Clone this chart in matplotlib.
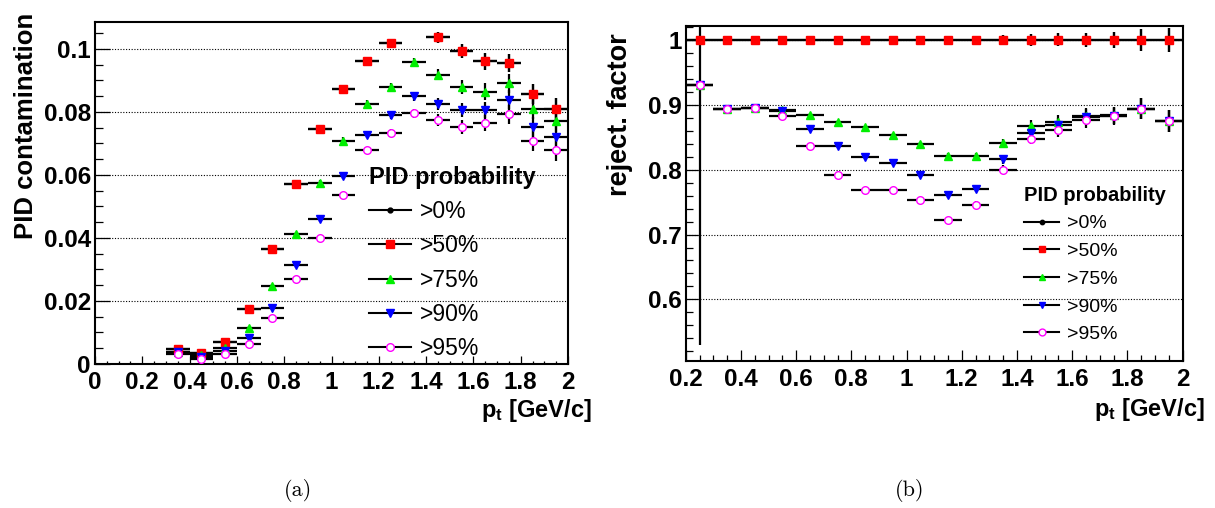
import numpy as np
import matplotlib
matplotlib.use("Agg")
import matplotlib.pyplot as plt
from matplotlib.ticker import MultipleLocator, FormatStrFormatter
from matplotlib.lines import Line2D

plt.rcParams['font.family'] = ['Liberation Sans', 'DejaVu Sans']
plt.rcParams['mathtext.fontset'] = 'custom'
plt.rcParams['mathtext.bf'] = 'Liberation Sans:bold'
plt.rcParams['mathtext.rm'] = 'Liberation Sans:bold'

# ---------------- data ----------------
labels = [">0%", ">50%", ">75%", ">90%", ">95%"]

pt_a = [0.35, 0.45, 0.55, 0.65, 0.75, 0.85, 0.95, 1.05, 1.15, 1.25,
        1.35, 1.45, 1.55, 1.65, 1.75, 1.85, 1.95]
cont_p0 = [0.0047, 0.0036, 0.0071, 0.0176, 0.0366, 0.0572, 0.0744, 0.0874, 0.0962, 0.1017,
           np.nan, 0.1036, 0.0994, 0.0960, 0.0955, 0.0857, 0.0809]
cont_p50 = [0.0047, 0.0036, 0.0071, 0.0176, 0.0366, 0.0572, 0.0744, 0.0874, 0.0962, 0.1017,
            np.nan, 0.1036, 0.0994, 0.0960, 0.0955, 0.0857, 0.0809]
cont_p75 = [0.0039, 0.0030, 0.0052, 0.0113, 0.0248, 0.0411, 0.0575, 0.0709, 0.0825, 0.0880,
            0.0957, 0.0918, 0.0880, 0.0864, 0.0891, 0.0809, 0.0772]
cont_p90 = [0.0037, 0.0023, 0.0041, 0.0081, 0.0179, 0.0313, 0.0459, 0.0598, 0.0728, 0.0791,
            0.0849, 0.0825, 0.0806, 0.0806, 0.0839, 0.0751, 0.0719]
cont_p95 = [0.0032, 0.0015, 0.0032, 0.0065, 0.0147, 0.0269, 0.0399, 0.0535, 0.0679, 0.0733,
            0.0795, 0.0774, 0.0751, 0.0764, 0.0793, 0.0709, 0.0680]
cont_err = [0.0004, 0.0004, 0.0005, 0.0006, 0.0007, 0.0008, 0.0009, 0.0010, 0.0011, 0.0013,
            0.0015, 0.0018, 0.0022, 0.0026, 0.0030, 0.0032, 0.0036]

pt_b = [0.25, 0.35, 0.45, 0.55, 0.65, 0.75, 0.85, 0.95, 1.05, 1.15,
        1.25, 1.35, 1.45, 1.55, 1.65, 1.75, 1.85, 1.95]
rej_p0 = [1.0] * 18
rej_p50 = [1.0] * 18
rej_p75 = [0.931, 0.894, 0.895, 0.892, 0.885, 0.874, 0.866, 0.854, 0.839, 0.821,
           0.821, 0.841, 0.868, 0.874, 0.883, 0.884, 0.894, 0.875]
rej_p90 = [0.931, 0.894, 0.895, 0.890, 0.863, 0.836, 0.820, 0.811, 0.792, 0.761,
           0.770, 0.816, 0.856, 0.869, 0.881, 0.883, 0.894, 0.875]
rej_p95 = [0.931, 0.894, 0.895, 0.883, 0.837, 0.792, 0.768, 0.769, 0.754, 0.723,
           0.746, 0.800, 0.848, 0.861, 0.877, 0.882, 0.894, 0.875]
rej_err_p0 = [0.47, 0.001, 0.001, 0.001, 0.001, 0.001, 0.001, 0.001, 0.002, 0.003,
              0.005, 0.008, 0.009, 0.010, 0.011, 0.013, 0.017, 0.019]
rej_err_p50 = [0.003, 0.001, 0.001, 0.001, 0.001, 0.001, 0.001, 0.001, 0.002, 0.003,
               0.005, 0.008, 0.009, 0.010, 0.011, 0.013, 0.017, 0.019]
rej_err = [0.004, 0.002, 0.002, 0.002, 0.002, 0.002, 0.002, 0.003, 0.003, 0.004,
           0.005, 0.007, 0.009, 0.011, 0.012, 0.013, 0.016, 0.017]
bin_half = 0.05

# ---------------- styles ----------------
styles = [
    dict(marker='o', mfc='black', mec='black', ms=3.5),
    dict(marker='s', mfc='#ff0000', mec='#ff0000', ms=5.5),
    dict(marker='^', mfc='#00ee00', mec='#00ee00', ms=5.5),
    dict(marker='v', mfc='#0000ff', mec='#0000ff', ms=5.5),
    dict(marker='o', mfc='white', mec='#ff00ff', ms=5.5, mew=1.0),
]

W, H = 1215, 508
fig = plt.figure(figsize=(W / 100, H / 100), dpi=100)

ax1 = fig.add_axes([95 / W, (H - 364) / H, 473 / W, 342.3 / H])
ax2 = fig.add_axes([685.7 / W, (H - 361) / H, 497 / W, 335.3 / H])


def draw(ax, x, series, errs):
    for (y, e, st) in zip(series, errs, styles):
        ax.errorbar(x, y, xerr=bin_half, yerr=e, fmt=st['marker'], ls='none',
                    ecolor='black', elinewidth=1.6, capsize=0,
                    mfc=st['mfc'], mec=st['mec'], ms=st['ms'], mew=st.get('mew', 1.0),
                    zorder=3)


draw(ax1, pt_a, [cont_p0, cont_p50, cont_p75, cont_p90, cont_p95], [cont_err] * 5)
draw(ax2, pt_b, [rej_p0, rej_p50, rej_p75, rej_p90, rej_p95],
     [rej_err_p0, rej_err_p50, rej_err, rej_err, rej_err])

# axes styling
def style_axes(ax, ylim, xlim, ymaj, ymin, xmaj, xmin, ylen, xlen):
    ax.set_xlim(*xlim)
    ax.set_ylim(*ylim)
    ax.yaxis.set_major_locator(MultipleLocator(ymaj))
    ax.yaxis.set_minor_locator(MultipleLocator(ymin))
    ax.xaxis.set_major_locator(MultipleLocator(xmaj))
    ax.xaxis.set_minor_locator(MultipleLocator(xmin))
    ax.xaxis.set_major_formatter(FormatStrFormatter('%g'))
    ax.yaxis.set_major_formatter(FormatStrFormatter('%g'))
    ax.tick_params(which='both', direction='in', top=False, right=False, width=0.9,
                   labelsize=17.5)
    ax.tick_params(axis='y', which='major', length=ylen[0], pad=3)
    ax.tick_params(axis='y', which='minor', length=ylen[1])
    ax.tick_params(axis='x', which='major', length=xlen[0], pad=5)
    ax.tick_params(axis='x', which='minor', length=xlen[1])
    for lab in ax.get_xticklabels() + ax.get_yticklabels():
        lab.set_fontweight('bold')
    for sp in ax.spines.values():
        sp.set_linewidth(1.5)
    ax.grid(axis='y', which='major', color='black', linestyle=(0, (1, 1.5)), linewidth=0.8)
    ax.set_axisbelow(True)


style_axes(ax1, (0, 0.1086), (0, 2), 0.02, 0.005, 0.2, 0.05, (10.5, 5.5), (5.5, 2.5))
style_axes(ax2, (0.505, 1.022), (0.2, 2), 0.1, 0.02, 0.2, 0.05, (8.5, 5), (8, 4.3))

ax1.set_ylabel('PID contamination', fontsize=18.5, fontweight='bold', loc='top')
ax1.yaxis.set_label_coords(-0.12, 1.025)
ax2.set_ylabel('reject. factor', fontsize=19.5, fontweight='bold', loc='top')
ax2.yaxis.set_label_coords(-0.106, 0.978)

xl = r'$\mathbf{p_{t}}$ [GeV/c]'
ax1.set_xlabel(xl, fontsize=17, fontweight='bold', loc='right')
ax1.xaxis.set_label_coords(1.051, -0.095)
ax2.set_xlabel(xl, fontsize=17, fontweight='bold', loc='right')
ax2.xaxis.set_label_coords(1.045, -0.105)

# legends
def make_handles(ms_scale):
    hs = []
    for st in styles:
        hs.append(Line2D([], [], color='black', lw=1.5, marker=st['marker'],
                         mfc=st['mfc'], mec=st['mec'], ms=st['ms'] * ms_scale,
                         mew=st.get('mew', 1.0)))
    return hs


leg1 = ax1.legend(make_handles(1.0), labels, loc='upper left', bbox_to_anchor=(0.556, 0.612),
                  frameon=False, fontsize=16.5, title='PID probability',
                  title_fontproperties={'weight': 'bold', 'size': 17},
                  handlelength=1.8, handletextpad=0.4, labelspacing=0.49,
                  borderpad=0.0, alignment='left')
leg2 = ax2.legend(make_handles(0.9), labels, loc='upper left', bbox_to_anchor=(0.662, 0.552),
                  frameon=False, fontsize=14, title='PID probability',
                  title_fontproperties={'weight': 'bold', 'size': 14.5},
                  handlelength=1.8, handletextpad=0.4, labelspacing=0.52,
                  borderpad=0.0, alignment='left')

fig.text(298 / W, 1 - 490 / H, '(a)', fontfamily='cmr10', fontsize=16, ha='center', va='center')
fig.text(910 / W, 1 - 490 / H, '(b)', fontfamily='cmr10', fontsize=16, ha='center', va='center')

fig.savefig('out.png', dpi=100)
